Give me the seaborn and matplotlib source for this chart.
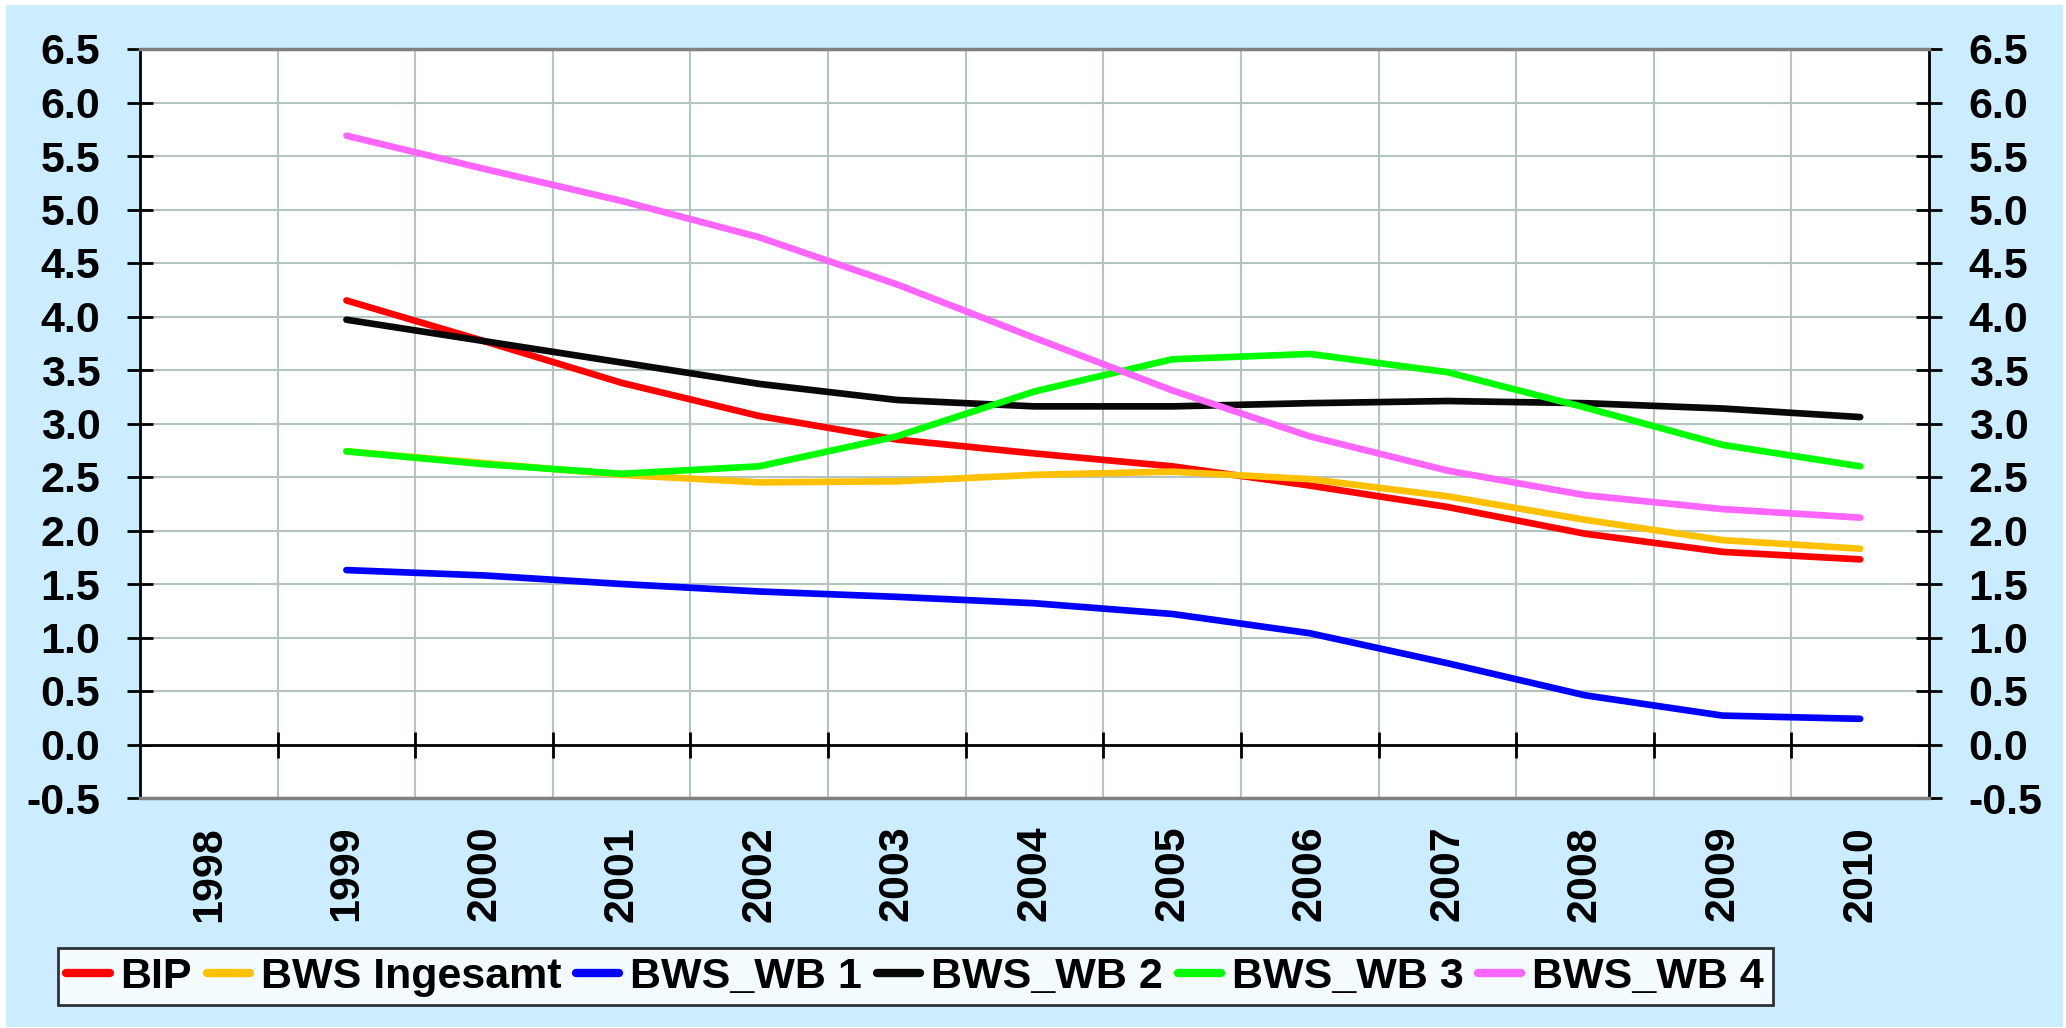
import numpy as np
import pandas as pd
import matplotlib
matplotlib.use("Agg")
import matplotlib.pyplot as plt
import seaborn as sns
from matplotlib.ticker import FormatStrFormatter, MultipleLocator
from matplotlib.patches import Rectangle

# category axis and series values
categories = [1998, 1999, 2000, 2001, 2002, 2003, 2004, 2005, 2006, 2007, 2008, 2009, 2010]
years = [1999, 2000, 2001, 2002, 2003, 2004, 2005, 2006, 2007, 2008, 2009, 2010]
bip = [4.15, 3.77, 3.38, 3.07, 2.85, 2.72, 2.60, 2.42, 2.22, 1.97, 1.80, 1.73]
bws_total = [2.74, 2.63, 2.52, 2.45, 2.46, 2.52, 2.55, 2.48, 2.32, 2.10, 1.91, 1.83]
bws_wb1 = [1.63, 1.58, 1.50, 1.43, 1.38, 1.32, 1.22, 1.04, 0.76, 0.46, 0.27, 0.24]
bws_wb2 = [3.97, 3.77, 3.57, 3.37, 3.22, 3.16, 3.16, 3.19, 3.21, 3.19, 3.14, 3.06]
bws_wb3 = [2.74, 2.62, 2.53, 2.60, 2.88, 3.30, 3.60, 3.65, 3.48, 3.15, 2.80, 2.60]
bws_wb4 = [5.69, 5.38, 5.08, 4.74, 4.30, 3.80, 3.31, 2.88, 2.56, 2.33, 2.20, 2.12]

series_names = ["BIP", "BWS Ingesamt", "BWS_WB 1", "BWS_WB 2", "BWS_WB 3", "BWS_WB 4"]
colors = ["#FF0000", "#FFC000", "#0000FF", "#080808", "#00FF00", "#FF66FF"]

df = pd.DataFrame({"year": years, "BIP": bip, "BWS Ingesamt": bws_total,
                   "BWS_WB 1": bws_wb1, "BWS_WB 2": bws_wb2,
                   "BWS_WB 3": bws_wb3, "BWS_WB 4": bws_wb4})
long_df = df.melt(id_vars="year", var_name="series", value_name="value")

sns.set_style("white")
plt.rcParams["font.family"] = ["Liberation Sans", "DejaVu Sans"]
plt.rcParams["font.weight"] = "bold"
plt.rcParams["text.color"] = "black"
plt.rcParams["axes.unicode_minus"] = False

fig = plt.figure(figsize=(20.66, 10.28), dpi=100, facecolor="white")
fig.patches.append(Rectangle((6 / 2066, 1 - 1027 / 1028), (2063 - 6) / 2066, (1027 - 5) / 1028,
                             transform=fig.transFigure, facecolor="#CCECFF",
                             edgecolor="none", zorder=-10))
ax = fig.add_axes([140 / 2066, 1 - 798 / 1028, (1929 - 140) / 2066, (798 - 49) / 1028])
ax.set_facecolor("white")

sns.lineplot(data=long_df, x="year", y="value", hue="series", hue_order=series_names,
             palette=colors, linewidth=4.8, sort=False, ax=ax, legend=True,
             solid_capstyle="round", solid_joinstyle="round", zorder=5)

ax.set_xlim(categories[0] - 0.5, categories[-1] + 0.5)
ax.set_ylim(-0.5, 6.5)
ax.yaxis.set_major_locator(MultipleLocator(0.5))
ax.yaxis.set_major_formatter(FormatStrFormatter("%.1f"))
ax.set_xticks(categories)
ax.set_xticklabels([str(c) for c in categories], rotation=90)
ax.set_xticks([c - 0.5 for c in categories[1:]], minor=True)
ax.set_xlabel("")
ax.set_ylabel("")

ax.grid(True, axis="y", which="major", color="#B4C4C0", linewidth=1.5)
ax.grid(True, axis="x", which="minor", color="#B4C4C0", linewidth=1.5)
ax.set_axisbelow(True)

ax.tick_params(axis="y", which="major", direction="inout", length=19, width=2,
               left=True, right=True, labelleft=True, labelright=True,
               labelsize=31, pad=19, colors="black")
ax.tick_params(axis="x", which="both", length=0, labelsize=31, pad=20, labelcolor="black")

for side in ["left", "right"]:
    ax.spines[side].set_color("black")
    ax.spines[side].set_linewidth(2)
for side in ["top", "bottom"]:
    ax.spines[side].set_color("#808080")
    ax.spines[side].set_linewidth(2.5)

# zero line with category separators
zero_axis = ax.secondary_xaxis(0.5 / 7.0)
zero_axis.set_zorder(4)
zero_axis.set_xticks([c - 0.5 for c in categories[1:]])
zero_axis.tick_params(direction="inout", length=19, width=2, color="black",
                      labelbottom=False)
zero_axis.spines["bottom"].set_linewidth(2)
zero_axis.spines["bottom"].set_color("black")

handles, labels = ax.get_legend_handles_labels()
ax.get_legend().remove()
for h in handles:
    h.set_linewidth(6)
    h.set_solid_capstyle("round")
leg = fig.legend(handles, labels, loc="center", bbox_to_anchor=(0.443, 0.05), ncol=6,
                 fontsize=31, frameon=True, fancybox=False, handlelength=1.0,
                 handletextpad=0.25, columnspacing=0.35, borderpad=0.2,
                 borderaxespad=0)
leg.get_frame().set_edgecolor("black")
leg.get_frame().set_linewidth(2)
leg.get_frame().set_facecolor("white")

fig.savefig("out.png", dpi=100, facecolor=fig.get_facecolor())
